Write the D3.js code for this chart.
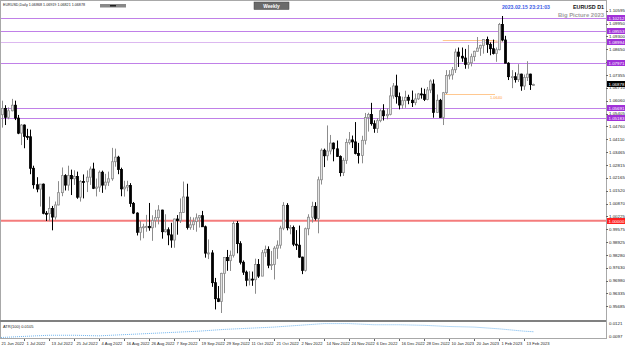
<!DOCTYPE html>
<html>
<head>
<meta charset="utf-8">
<script src="https://cdnjs.cloudflare.com/ajax/libs/d3/7.8.5/d3.min.js"></script>
<style>
  body { margin: 0; background: #fff; }
  svg { display: block; }
  text { font-family: "Liberation Sans", Arial, sans-serif; }
</style>
</head>
<body>
<div id="chart"></div>
<script>
// EURUSD daily candles, 21 Jun 2022 .. 16 Feb 2023
var dates = [
  "2022-06-21","2022-06-22","2022-06-23","2022-06-24","2022-06-27","2022-06-28","2022-06-29","2022-06-30",
  "2022-07-01","2022-07-04","2022-07-05","2022-07-06","2022-07-07","2022-07-08","2022-07-11","2022-07-12","2022-07-13","2022-07-14","2022-07-15","2022-07-18","2022-07-19","2022-07-20","2022-07-21","2022-07-22","2022-07-25","2022-07-26","2022-07-27","2022-07-28","2022-07-29",
  "2022-08-01","2022-08-02","2022-08-03","2022-08-04","2022-08-05","2022-08-08","2022-08-09","2022-08-10","2022-08-11","2022-08-12","2022-08-15","2022-08-16","2022-08-17","2022-08-18","2022-08-19","2022-08-22","2022-08-23","2022-08-24","2022-08-25","2022-08-26","2022-08-29","2022-08-30","2022-08-31",
  "2022-09-01","2022-09-02","2022-09-05","2022-09-06","2022-09-07","2022-09-08","2022-09-09","2022-09-12","2022-09-13","2022-09-14","2022-09-15","2022-09-16","2022-09-19","2022-09-20","2022-09-21","2022-09-22","2022-09-23","2022-09-26","2022-09-27","2022-09-28","2022-09-29","2022-09-30",
  "2022-10-03","2022-10-04","2022-10-05","2022-10-06","2022-10-07","2022-10-10","2022-10-11","2022-10-12","2022-10-13","2022-10-14","2022-10-17","2022-10-18","2022-10-19","2022-10-20","2022-10-21","2022-10-24","2022-10-25","2022-10-26","2022-10-27","2022-10-28","2022-10-31",
  "2022-11-01","2022-11-02","2022-11-03","2022-11-04","2022-11-07","2022-11-08","2022-11-09","2022-11-10","2022-11-11","2022-11-14","2022-11-15","2022-11-16","2022-11-17","2022-11-18","2022-11-21","2022-11-22","2022-11-23","2022-11-24","2022-11-25","2022-11-28","2022-11-29","2022-11-30",
  "2022-12-01","2022-12-02","2022-12-05","2022-12-06","2022-12-07","2022-12-08","2022-12-09","2022-12-12","2022-12-13","2022-12-14","2022-12-15","2022-12-16","2022-12-19","2022-12-20","2022-12-21","2022-12-22","2022-12-23","2022-12-26","2022-12-27","2022-12-28","2022-12-29","2022-12-30",
  "2023-01-03","2023-01-04","2023-01-05","2023-01-06","2023-01-09","2023-01-10","2023-01-11","2023-01-12","2023-01-13","2023-01-16","2023-01-17","2023-01-18","2023-01-19","2023-01-20","2023-01-23","2023-01-24","2023-01-25","2023-01-26","2023-01-27","2023-01-30","2023-01-31",
  "2023-02-01","2023-02-02","2023-02-03","2023-02-06","2023-02-07","2023-02-08","2023-02-09","2023-02-10","2023-02-13","2023-02-14","2023-02-15","2023-02-16"
];

var open = [
  1.0505,1.0535,1.0567,1.0522,1.0555,1.0583,1.0518,1.0442,
  1.0483,1.0426,1.0424,1.0265,1.0182,1.0160,1.0185,1.0038,1.0036,1.0062,1.0019,1.0080,1.0142,1.0228,1.0180,1.0229,1.0212,1.0224,1.0119,1.0198,1.0197,
  1.0220,1.0261,1.0164,1.0170,1.0245,1.0180,1.0195,1.0212,1.0298,1.0321,1.0259,1.0161,1.0170,1.0178,1.0088,1.0039,0.9942,0.9967,0.9970,0.9972,0.9965,1.0002,1.0016,
  1.0054,0.9945,0.9955,0.9929,0.9903,1.0009,1.0001,1.0042,1.0120,0.9966,0.9980,0.9996,1.0015,1.0026,0.9970,0.9837,0.9838,0.9688,0.9607,0.9593,0.9735,0.9815,
  0.9799,0.9826,0.9986,0.9885,0.9791,0.9741,0.9700,0.9706,0.9703,0.9780,0.9721,0.9839,0.9856,0.9776,0.9780,0.9862,0.9877,0.9963,1.0078,0.9965,0.9966,
  0.9882,0.9877,0.9817,0.9750,0.9960,1.0018,1.0073,1.0012,1.0207,1.0356,1.0328,1.0352,1.0392,1.0363,1.0325,1.0243,1.0305,1.0395,1.0408,1.0398,1.0340,1.0330,
  1.0406,1.0521,1.0536,1.0490,1.0466,1.0505,1.0555,1.0530,1.0537,1.0630,1.0680,1.0626,1.0584,1.0606,1.0623,1.0608,1.0596,1.0615,1.0640,1.0638,1.0612,1.0660,
  1.0690,1.0547,1.0608,1.0521,1.0646,1.0733,1.0736,1.0762,1.0851,1.0830,1.0821,1.0789,1.0797,1.0828,1.0855,1.0871,1.0885,1.0915,1.0890,1.0868,1.0844,
  1.0863,1.0990,1.0912,1.0795,1.0727,1.0727,1.0712,1.0740,1.0680,1.0723,1.0740,1.06868
];
var high = [
  1.0583,1.0606,1.0583,1.0572,1.0615,1.0606,1.0534,1.0488,
  1.0486,1.0464,1.0460,1.0278,1.0220,1.0186,1.0188,1.0049,1.0122,1.0075,1.0097,1.0200,1.0269,1.0235,1.0278,1.0258,1.0255,1.0248,1.0205,1.0234,1.0254,
  1.0274,1.0293,1.0213,1.0254,1.0253,1.0237,1.0248,1.0368,1.0364,1.0328,1.0268,1.0202,1.0202,1.0190,1.0095,1.0043,0.9999,0.9985,1.0030,1.0090,1.0028,1.0055,1.0079,
  1.0056,1.0033,0.9967,0.9990,1.0011,1.0029,1.0113,1.0198,1.0187,1.0020,1.0017,1.0037,1.0029,1.0050,0.9976,0.9906,0.9852,0.9712,0.9671,0.9738,0.9815,0.9853,
  0.9850,0.9999,0.9999,0.9897,0.9800,0.9749,0.9746,0.9744,0.9809,0.9807,0.9853,0.9875,0.9871,0.9848,0.9872,0.9901,0.9975,1.0094,1.0089,0.9979,0.9976,
  0.9953,0.9976,0.9819,0.9966,1.0033,1.0096,1.0094,1.0223,1.0365,1.0364,1.0481,1.0433,1.0395,1.0405,1.0330,1.0318,1.0414,1.0448,1.0430,1.0498,1.0393,1.0429,
  1.0544,1.0545,1.0595,1.0507,1.0518,1.0563,1.0588,1.0567,1.0673,1.0695,1.0737,1.0647,1.0626,1.0656,1.0636,1.0657,1.0642,1.0645,1.0671,1.0666,1.0675,1.0713,
  1.0713,1.0637,1.0615,1.0650,1.0760,1.0760,1.0776,1.0868,1.0874,1.0874,1.0867,1.0887,1.0843,1.0858,1.0927,1.0888,1.0917,1.0929,1.0900,1.0914,1.0874,
  1.0998,1.1033,1.0933,1.0800,1.0760,1.0749,1.0790,1.0742,1.0738,1.0805,1.0742,1.06919
];
var low = [
  1.0485,1.0470,1.0483,1.0512,1.0552,1.0508,1.0437,1.0382,
  1.0366,1.0408,1.0235,1.0162,1.0144,1.0072,1.0033,0.9999,0.9998,0.9952,1.0006,1.0078,1.0124,1.0153,1.0152,1.0130,1.0181,1.0111,1.0097,1.0113,1.0145,
  1.0181,1.0160,1.0123,1.0146,1.0141,1.0158,1.0176,1.0202,1.0273,1.0235,1.0124,1.0122,1.0149,1.0070,1.0034,0.9926,0.9901,0.9912,0.9945,0.9950,0.9899,0.9966,0.9982,
  0.9910,0.9941,0.9877,0.9864,0.9864,0.9930,0.9989,1.0040,0.9956,0.9955,0.9954,0.9945,0.9966,0.9970,0.9814,0.9807,0.9667,0.9553,0.9590,0.9535,0.9635,0.9748,
  0.9747,0.9815,0.9836,0.9780,0.9727,0.9670,0.9674,0.9672,0.9632,0.9712,0.9721,0.9818,0.9761,0.9752,0.9704,0.9808,0.9860,0.9953,0.9952,0.9932,0.9872,
  0.9853,0.9813,0.9731,0.9744,0.9927,0.9991,1.0002,0.9937,1.0183,1.0271,1.0304,1.0335,1.0300,1.0322,1.0224,1.0226,1.0287,1.0385,1.0367,1.0335,1.0289,1.0290,
  1.0385,1.0450,1.0480,1.0444,1.0443,1.0497,1.0506,1.0512,1.0532,1.0616,1.0591,1.0562,1.0565,1.0570,1.0588,1.0574,1.0583,1.0610,1.0616,1.0604,1.0608,1.0644,
  1.0520,1.0545,1.0520,1.0483,1.0640,1.0713,1.0712,1.0746,1.0776,1.0802,1.0767,1.0767,1.0779,1.0805,1.0854,1.0832,1.0843,1.0847,1.0835,1.0839,1.0802,
  1.0860,1.0905,1.0795,1.0710,1.0669,1.0697,1.0700,1.0656,1.0660,1.0705,1.0660,1.06821
];
var close = [
  1.0535,1.0567,1.0522,1.0555,1.0583,1.0518,1.0442,1.0483,
  1.0426,1.0424,1.0265,1.0182,1.0160,1.0185,1.0038,1.0036,1.0062,1.0019,1.0080,1.0142,1.0228,1.0180,1.0229,1.0212,1.0224,1.0119,1.0198,1.0197,1.0220,
  1.0261,1.0164,1.0170,1.0245,1.0180,1.0195,1.0212,1.0298,1.0321,1.0259,1.0161,1.0170,1.0178,1.0088,1.0039,0.9942,0.9967,0.9970,0.9972,0.9965,1.0002,1.0016,1.0054,
  0.9945,0.9955,0.9929,0.9903,1.0009,1.0001,1.0042,1.0120,0.9966,0.9980,0.9996,1.0015,1.0026,0.9970,0.9837,0.9838,0.9688,0.9607,0.9593,0.9735,0.9815,0.9799,
  0.9826,0.9986,0.9885,0.9791,0.9741,0.9700,0.9706,0.9703,0.9780,0.9721,0.9839,0.9856,0.9776,0.9780,0.9862,0.9877,0.9963,1.0078,0.9965,0.9966,0.9882,
  0.9877,0.9817,0.9750,0.9960,1.0018,1.0073,1.0012,1.0207,1.0356,1.0328,1.0352,1.0392,1.0363,1.0325,1.0243,1.0305,1.0395,1.0408,1.0398,1.0340,1.0330,1.0406,
  1.0521,1.0536,1.0490,1.0466,1.0505,1.0555,1.0530,1.0537,1.0630,1.0680,1.0626,1.0584,1.0606,1.0623,1.0608,1.0596,1.0615,1.0640,1.0638,1.0612,1.0660,1.0705,
  1.0547,1.0608,1.0521,1.0646,1.0733,1.0736,1.0762,1.0851,1.0830,1.0821,1.0789,1.0797,1.0828,1.0855,1.0871,1.0885,1.0915,1.0890,1.0868,1.0844,1.0863,
  1.0990,1.0912,1.0795,1.0727,1.0727,1.0712,1.0740,1.0680,1.0723,1.0740,1.06868,1.06878
];

// ATR(100) read every 8 bars
var atrDates = ["2022-06-21","2022-07-01","2022-07-13","2022-07-25","2022-08-04","2022-08-16","2022-08-26","2022-09-07","2022-09-19","2022-09-29","2022-10-11","2022-10-21","2022-11-02","2022-11-14","2022-11-24","2022-12-06","2022-12-16","2022-12-28","2023-01-10","2023-01-20","2023-02-01","2023-02-13","2023-02-16"];
var atrValues = [0.0096,0.0098,0.0100,0.0100,0.0099,0.0101,0.0103,0.0105,0.0107,0.0110,0.0112,0.0114,0.0117,0.0120,0.0120,0.0118,0.0118,0.0117,0.0115,0.0114,0.0111,0.0107,0.0106];

var dateTicks = ["21 Jun 2022","1 Jul 2022","13 Jul 2022","25 Jul 2022","4 Aug 2022","16 Aug 2022","26 Aug 2022","7 Sep 2022","19 Sep 2022","29 Sep 2022","11 Oct 2022","21 Oct 2022","2 Nov 2022","14 Nov 2022","24 Nov 2022","6 Dec 2022","16 Dec 2022","28 Dec 2022","10 Jan 2023","20 Jan 2023","1 Feb 2023","13 Feb 2023"];
var priceTicks = [1.10595,1.09950,1.09300,1.08650,1.08000,1.07355,1.06710,1.06060,1.05405,1.04760,1.04110,1.03465,1.02815,1.02165,1.01520,1.00870,1.00225,0.99575,0.98925,0.98280,0.97630,0.96980,0.96335,0.95685];
var levels = [1.10212, 1.09553, 1.08994, 1.07971, 1.05691, 1.05183];
var parity = 1.00000;
var markers = [1.0912, 1.0640];
var atrTicks = ["0.0121", "0.0097"];

var W = 625, H = 348, right = 606;

var svg = d3.select("#chart").append("svg")
  .attr("width", W).attr("height", H);

var x = d3.scalePoint().domain(dates).range([-1, -1 + (dates.length - 1) * 3.125]);
var y = d3.scaleLinear().domain([0.9535, 1.1033]).range([313, 16]);
var ya = d3.scaleLinear().domain([0.0097, 0.0121]).range([337, 323]);

svg.append("defs").append("clipPath").attr("id", "main")
  .append("rect").attr("x", 1).attr("y", 1).attr("width", right - 1).attr("height", 319);

// frame
svg.append("rect").attr("x", 0.5).attr("y", 0.5).attr("width", right).attr("height", 338)
  .attr("fill", "none").attr("stroke", "#a8a8a8");
svg.append("line").attr("x1", 0).attr("x2", right).attr("y1", 321).attr("y2", 321)
  .attr("stroke", "#808080").attr("stroke-width", 2);

// horizontal levels
var g = svg.append("g").attr("clip-path", "url(#main)");
g.selectAll(".lvl").data(levels).enter().append("line")
  .attr("x1", 0).attr("x2", right)
  .attr("y1", function(d) { return Math.round(y(d)) + 0.5; })
  .attr("y2", function(d) { return Math.round(y(d)) + 0.5; })
  .attr("stroke", function(d, i) { return i == 2 ? "#dcb8f0" : "#c080e8"; });
g.append("line").attr("x1", 0).attr("x2", right)
  .attr("y1", y(parity)).attr("y2", y(parity))
  .attr("stroke", "#f47c7c").attr("stroke-width", 2);

// orange marker lines
g.selectAll(".mk").data(markers).enter().append("line")
  .attr("x1", x("2023-01-06")).attr("x2", 495)
  .attr("y1", function(d) { return Math.round(y(d)) + 0.5; })
  .attr("y2", function(d) { return Math.round(y(d)) + 0.5; })
  .attr("stroke", "#ffc890");
g.selectAll(".mkt").data(markers).enter().append("text")
  .attr("x", 490).attr("y", function(d, i) { return y(d) + (i == 0 ? 3.5 : 5); }).attr("font-size", 4)
  .attr("fill", "#ffa040").text(function(d) { return d.toFixed(4); });

// candles
var idx = d3.range(dates.length);
var c = g.selectAll(".c").data(idx).enter().append("g");
c.append("line")
  .attr("x1", function(i) { return Math.round(x(dates[i])) + 0.5; })
  .attr("x2", function(i) { return Math.round(x(dates[i])) + 0.5; })
  .attr("y1", function(i) { return y(high[i]); })
  .attr("y2", function(i) { return y(low[i]); })
  .attr("stroke", function(i) { return close[i] < open[i] ? "#000" : "#8c8c8c"; });
c.append("rect")
  .attr("x", function(i) { return Math.round(x(dates[i])) - 0.5; })
  .attr("width", 2)
  .attr("y", function(i) { return y(Math.max(open[i], close[i])); })
  .attr("height", function(i) { return Math.max(1, Math.abs(y(open[i]) - y(close[i]))); })
  .attr("fill", function(i) { return close[i] < open[i] ? "#000" : "#e4e4e4"; })
  .attr("stroke", function(i) { return close[i] < open[i] ? "#000" : "#8c8c8c"; })
  .attr("stroke-width", 0.8);

// ATR pane
var atrLine = d3.line()
  .x(function(d, i) { return x(atrDates[i]); })
  .y(function(d) { return ya(d); });
svg.append("path").datum(atrValues).attr("d", atrLine)
  .attr("fill", "none").attr("stroke", "#6fb4ee").attr("stroke-width", 1)
  .attr("stroke-dasharray", "1,1");
svg.append("text").attr("x", 3).attr("y", 327.5).attr("font-size", 4).attr("fill", "#222")
  .text("ATR(100) 0.0105");

// price axis
var ax = svg.append("g").attr("font-size", 4.4);
ax.selectAll(".pt").data(priceTicks).enter().append("text")
  .attr("x", 609).attr("y", function(d) { return y(d) + 1.6; })
  .attr("fill", "#222").text(function(d) { return d.toFixed(5); });
ax.selectAll(".ptk").data(priceTicks).enter().append("line")
  .attr("x1", right).attr("x2", right + 2)
  .attr("y1", function(d) { return Math.round(y(d)) + 0.5; })
  .attr("y2", function(d) { return Math.round(y(d)) + 0.5; })
  .attr("stroke", "#666");

function tag(v, fill) {
  var yy = Math.round(y(v));
  ax.append("rect").attr("x", right + 1).attr("y", yy - 3).attr("width", 18).attr("height", 6).attr("fill", fill);
  ax.append("text").attr("x", right + 2.5).attr("y", yy + 1.6).attr("fill", "#fff").text(v.toFixed(5));
}
levels.forEach(function(v) { tag(v, "#a030d8"); });
tag(parity, "#ff2020");
tag(close[close.length - 1], "#000");

atrTicks.forEach(function(t, i) {
  ax.append("text").attr("x", 609).attr("y", i == 0 ? 325 : 338).attr("fill", "#222").text(t);
});

// date axis
var tickDates = dates.filter(function(d, i) { return i % 8 == 0; }).slice(0, dateTicks.length);
svg.append("g").attr("font-size", 4.1).selectAll("text").data(tickDates).enter().append("text")
  .attr("x", function(d) { return x(d) + 2.5; }).attr("y", 345).attr("fill", "#222")
  .text(function(d, i) { return dateTicks[i]; });
svg.append("g").selectAll("line").data(tickDates).enter().append("line")
  .attr("x1", function(d) { return Math.round(x(d)) + 0.5; })
  .attr("x2", function(d) { return Math.round(x(d)) + 0.5; })
  .attr("y1", 339).attr("y2", 341).attr("stroke", "#666");

// header texts
svg.append("text").attr("x", 3).attr("y", 6).attr("font-size", 3.8).attr("fill", "#222")
  .attr("textLength", 82).attr("lengthAdjust", "spacingAndGlyphs")
  .text("EURUSD,Daily  1.06868 1.06919 1.06821 1.06878");
svg.append("rect").attr("x", 100).attr("y", 4).attr("width", 26).attr("height", 3.5).attr("fill", "#888");
svg.append("rect").attr("x", 110).attr("y", 5).attr("width", 6).attr("height", 1.5).attr("fill", "#222");
svg.append("rect").attr("x", 254).attr("y", 2).attr("width", 35).attr("height", 7.5).attr("fill", "#6a6a6a").attr("stroke", "#444").attr("stroke-width", 0.5);
svg.append("text").attr("x", 271.5).attr("y", 7.6).attr("text-anchor", "middle").attr("font-size", 4.8).attr("font-weight", "bold").attr("fill", "#fff").text("Weekly");
svg.append("text").attr("x", 502).attr("y", 8.5).attr("font-size", 6).attr("font-weight", "bold").attr("fill", "#3c5ce6")
  .attr("textLength", 48).attr("lengthAdjust", "spacingAndGlyphs").text("2023.02.15 23:21:03");
svg.append("text").attr("x", 573).attr("y", 8.5).attr("font-size", 5.6).attr("font-weight", "bold").attr("fill", "#111")
  .attr("textLength", 31).attr("lengthAdjust", "spacingAndGlyphs").text("EURUSD D1");
svg.append("text").attr("x", 558).attr("y", 16.8).attr("font-size", 5.6).attr("font-weight", "bold").attr("fill", "#a0a0a0")
  .attr("textLength", 46).attr("lengthAdjust", "spacingAndGlyphs").text("Big Picture 2023");
</script>
</body>
</html>
